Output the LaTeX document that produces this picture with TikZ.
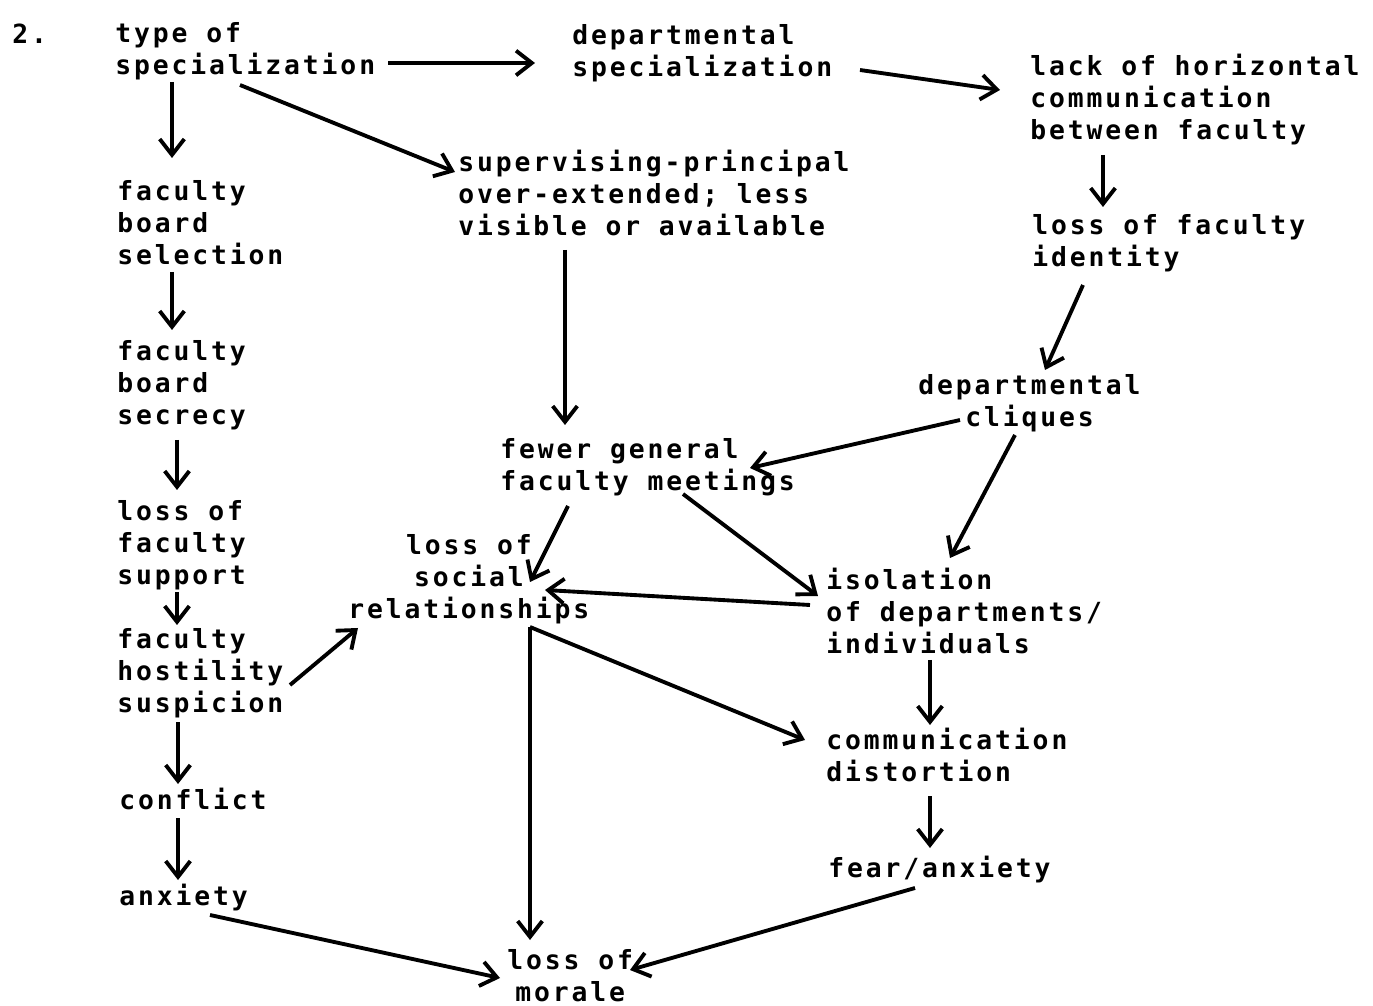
\documentclass[tikz,border=0pt]{standalone}
\usepackage{fontspec}
\setmonofont[LetterSpace=11]{DejaVu Sans Mono}
\usetikzlibrary{arrows.meta,calc}

\tikzset{
  item/.style={anchor=north west, inner sep=0pt, align=left,
    font=\ttfamily\bfseries\fontsize{15}{18.2}\selectfont},
  citem/.style={item, align=center},
  arr/.style={-{Straight Barb[length=9pt,width=14pt,line width=2.2pt]},
    line width=2.2pt},
}

\begin{document}
\begin{tikzpicture}[x=0.02cm,y=-0.02cm]
  \useasboundingbox[fill=white] (0,0) rectangle (1373,1006);

  % the items, column by column
  \node[item] (num) at (12,24) {2.};
  \node[item] (spec) at (115,22) {type of\\specialization};
  \node[item] (fsel) at (117,180) {faculty\\board\\selection};
  \node[item] (fsec) at (117,340) {faculty\\board\\secrecy};
  \node[item] (fsupp) at (117,500) {loss of\\faculty\\support};
  \node[item] (hostil) at (117,628) {faculty\\hostility\\suspicion};
  \node[item] (conflict) at (119,788) {conflict};
  \node[item] (anxiety) at (119,884) {anxiety};

  \node[item] (deptspec) at (572,24) {departmental\\specialization};
  \node[item] (superv) at (458,150) {supervising-principal\\over-extended; less\\visible or available};
  \node[item] (fewer) at (500,438) {fewer general\\faculty meetings};
  \node[citem] (social) at (348,534) {loss of\\social\\relationships};
  \node[citem] (morale) at (507,949) {loss of\\morale};

  \node[item] (horiz) at (1030,54) {lack of horizontal\\communication\\between faculty};
  \node[item] (ident) at (1032,214) {loss of faculty\\identity};
  \node[citem] (cliques) at (918,374) {departmental\\cliques};
  \node[item] (isol) at (826,568) {isolation\\of departments/\\individuals};
  \node[item] (distort) at (826,728) {communication\\distortion};
  \node[item] (fear) at (828,856) {fear/anxiety};

  % connectors
  \draw[arr] ($(spec.north west)+(273,41)$) -- ($(deptspec.north west)+(-37,39)$);
  \draw[arr] ($(deptspec.north west)+(288,46)$) -- ($(horiz.north west)+(-30,36)$);
  \draw[arr] ($(spec.north west)+(125,63)$) -- ($(superv.north west)+(-3,22)$);
  \draw[arr] ($(spec.north west)+(57,60)$) -- ($(fsel.north west)+(55,-22)$);
  \draw[arr] ($(horiz.north west)+(73,101)$) -- ($(ident.north west)+(71,-7)$);
  \draw[arr] ($(fsel.north west)+(55,92)$) -- ($(fsec.north west)+(55,-10)$);
  \draw[arr] ($(ident.north west)+(51,71)$) -- ($(cliques.north west)+(127,-4)$);
  \draw[arr] ($(superv.north west)+(107,100)$) -- ($(fewer.north west)+(65,-13)$);
  \draw[arr] ($(fsec.north west)+(60,100)$) -- ($(fsupp.north west)+(60,-10)$);
  \draw[arr] ($(cliques.north west)+(42,46)$) -- ($(fewer.north west)+(250,30)$);
  \draw[arr] ($(cliques.north west)+(97,61)$) -- ($(isol.north west)+(124,-10)$);
  \draw[arr] ($(fewer.north west)+(68,68)$) -- ($(social.north west)+(182,48)$);
  \draw[arr] ($(fewer.north west)+(183,56)$) -- ($(isol.north west)+(-8,28)$);
  \draw[arr] ($(isol.north west)+(-16,37)$) -- ($(social.north west)+(197,56)$);
  \draw[arr] ($(fsupp.north west)+(60,92)$) -- ($(hostil.north west)+(60,-3)$);
  \draw[arr] ($(hostil.north west)+(173,57)$) -- ($(social.north west)+(10,94)$);
  \draw[arr] ($(hostil.north west)+(61,94)$) -- ($(conflict.north west)+(59,-4)$);
  \draw[arr] ($(conflict.north west)+(59,30)$) -- ($(anxiety.north west)+(59,-4)$);
  \draw[arr] ($(isol.north west)+(104,92)$) -- ($(distort.north west)+(104,-3)$);
  \draw[arr] ($(social.north west)+(182,93)$) -- ($(distort.north west)+(-21,12)$);
  \draw[arr] ($(social.north west)+(182,93)$) -- ($(morale.north west)+(23,-9)$);
  \draw[arr] ($(distort.north west)+(104,68)$) -- ($(fear.north west)+(102,-8)$);
  \draw[arr] ($(anxiety.north west)+(91,31)$) -- ($(morale.north west)+(-7,29)$);
  \draw[arr] ($(fear.north west)+(87,32)$) -- ($(morale.north west)+(123,21)$);
\end{tikzpicture}
\end{document}
